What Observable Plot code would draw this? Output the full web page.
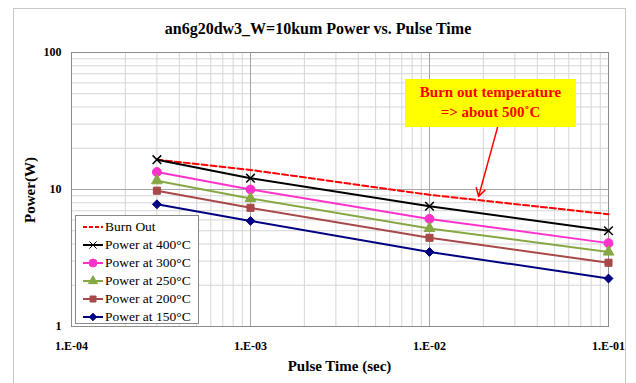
<!DOCTYPE html>
<html>
<head>
<meta charset="utf-8">
<script src="https://cdn.jsdelivr.net/npm/d3@7"></script>
<script src="https://cdn.jsdelivr.net/npm/@observablehq/plot@0.6"></script>
<style>
  body { margin: 0; background: #fff; }
  #wrap { position: relative; width: 636px; height: 383px; overflow: hidden; font-family: "Liberation Serif", "Times New Roman", "DejaVu Serif", serif; }
  #frame { position: absolute; left: 13px; top: 8px; width: 611px; height: 400px; border: 1px solid #c8c8c8; }
  #chart { position: absolute; left: 0; top: 0; }
  #chart svg text { font-family: "Liberation Serif", "Times New Roman", "DejaVu Serif", serif; }
  .title { position: absolute; left: 0; width: 636px; text-align: center; font-weight: bold; font-size: 16px; top: 20px; }
  .xlabel { position: absolute; left: 71px; width: 537px; text-align: center; font-weight: bold; font-size: 15px; top: 358px; }
  .ylabel { position: absolute; left: 30px; top: 190px; font-weight: bold; font-size: 15px; transform: translate(-50%, -50%) rotate(-90deg); white-space: nowrap; }
  #legend { position: absolute; left: 75px; top: 215px; width: 124px; height: 109px; border: 1px solid #888; background: #fff; padding-top: 2px; box-sizing: border-box; }
  .item { height: 18px; display: flex; align-items: center; font-size: 13.5px; white-space: nowrap; }
  .item svg { margin-left: 6px; margin-right: 1px; }
  #note { position: absolute; left: 405px; top: 79px; width: 171px; height: 48px; background: #ffff00; color: #ff0000; font-weight: bold; font-size: 15px; text-align: center; line-height: 20px; padding-top: 3px; box-sizing: border-box; }
</style>
</head>
<body>
<div id="wrap">
  <div id="frame"></div>
  <div id="chart"></div>
  <div class="title">an6g20dw3_W=10kum Power vs. Pulse Time</div>
  <div class="xlabel">Pulse Time (sec)</div>
  <div class="ylabel">Power(W)</div>
  <div id="legend"></div>
  <div id="note">Burn out temperature<br>=&gt; about 500˚C</div>
</div>
<script>
// ---- data ----
const times = [3e-4, 1e-3, 1e-2, 1e-1];
const burnOut = [16.5, 13.9, 9.15, 6.6];
const p400 = [16.5, 12.1, 7.55, 5.0];
const p300 = [13.4, 10.0, 6.1, 4.06];
const p250 = [11.6, 8.6, 5.2, 3.5];
const p200 = [9.8, 7.35, 4.44, 2.92];
const p150 = [7.8, 5.9, 3.5, 2.24];
const seriesNames = ["Burn Out", "Power at 400°C", "Power at 300°C", "Power at 250°C", "Power at 200°C", "Power at 150°C"];
const seriesColors = ["#ff0000", "#000000", "#ff33cc", "#86a844", "#a84848", "#000080"];
const seriesSymbols = [null, "times", "circle", "triangle", "square", "diamond2"];
const xTicks = [1e-4, 1e-3, 1e-2, 1e-1];
const xTickLabels = ["1.E-04", "1.E-03", "1.E-02", "1.E-01"];
const yTicks = [1, 10, 100];
const yTickLabels = ["1", "10", "100"];
// annotation arrow (data coordinates): from box to burn-out line
const arrowFrom = {x: 0.0240, y: 28.4};
const arrowTo = {x: 0.0188, y: 8.9};

// ---- build table ----
const seriesValues = [burnOut, p400, p300, p250, p200, p150];
const rows = [];
seriesValues.forEach((vals, i) => vals.forEach((v, j) => rows.push({series: seriesNames[i], idx: i, t: times[j], p: v})));

// gridline positions
const xMinor = [];
for (let e = -4; e < -1; e++) for (let k = 2; k <= 9; k++) xMinor.push(k * Math.pow(10, e));
const yMinor = [];
for (let e = 0; e < 2; e++) for (let k = 2; k <= 9; k++) yMinor.push(k * Math.pow(10, e));

const serif = "'Liberation Serif', 'Times New Roman', 'DejaVu Serif', serif";
const marks = [
  Plot.ruleX(xMinor, {stroke: "#d6d6d6", strokeWidth: 1}),
  Plot.ruleY(yMinor, {stroke: "#d6d6d6", strokeWidth: 1}),
  Plot.ruleX(xTicks, {stroke: "#a6a6a6", strokeWidth: 1}),
  Plot.ruleY(yTicks, {stroke: "#a6a6a6", strokeWidth: 1}),
  Plot.frame({stroke: "#8c8c8c"}),
];
seriesNames.forEach((name, i) => {
  const d = rows.filter(r => r.idx === i);
  marks.push(Plot.line(d, {x: "t", y: "p", stroke: seriesColors[i], strokeWidth: 2, strokeDasharray: i === 0 ? "6,3" : null}));
});
seriesNames.forEach((name, i) => {
  if (!seriesSymbols[i]) return;
  const d = rows.filter(r => r.idx === i);
  marks.push(Plot.dot(d, {x: "t", y: "p", symbol: () => seriesSymbols[i], fill: seriesColors[i], stroke: seriesColors[i], strokeWidth: seriesSymbols[i] === "times" ? 1.5 : 1, r: seriesSymbols[i] === "circle" ? 4.5 : 4}));
});
marks.push(Plot.arrow([{x1: arrowFrom.x, y1: arrowFrom.y, x2: arrowTo.x, y2: arrowTo.y}], {x1: "x1", y1: "y1", x2: "x2", y2: "y2", stroke: "#ff0000", strokeWidth: 1.5, headLength: 9, bend: 0}));
marks.push(Plot.axisX(xTicks, {tickSize: 0, tickPadding: 15, tickFormat: d => xTickLabels[xTicks.indexOf(d)], fontWeight: "bold", fontSize: 12, fontFamily: serif, label: null}));
marks.push(Plot.axisY(yTicks, {tickSize: 0, tickPadding: 10, tickFormat: d => yTickLabels[yTicks.indexOf(d)], fontWeight: "bold", fontSize: 12, fontFamily: serif, label: null}));

const chart = Plot.plot({
  width: 636,
  height: 383,
  marginLeft: 71,
  marginRight: 28,
  marginTop: 52,
  marginBottom: 57,
  style: {fontFamily: serif, background: "transparent", color: "#000"},
  x: {type: "log", domain: [1e-4, 1e-1]},
  y: {type: "log", domain: [1, 100]},
  marks
});
document.getElementById("chart").appendChild(chart);

// ---- legend ----
const legend = document.getElementById("legend");
seriesNames.forEach((name, i) => {
  const item = document.createElement("div");
  item.className = "item";
  const ns = "http://www.w3.org/2000/svg";
  const svg = document.createElementNS(ns, "svg");
  svg.setAttribute("width", 22); svg.setAttribute("height", 12);
  const ln = document.createElementNS(ns, "line");
  ln.setAttribute("x1", 1); ln.setAttribute("x2", 21); ln.setAttribute("y1", 6); ln.setAttribute("y2", 6);
  ln.setAttribute("stroke", seriesColors[i]); ln.setAttribute("stroke-width", 2);
  if (i === 0) ln.setAttribute("stroke-dasharray", "4,2");
  svg.appendChild(ln);
  if (seriesSymbols[i]) {
    const sym = {times: d3.symbolTimes, circle: d3.symbolCircle, triangle: d3.symbolTriangle, square: d3.symbolSquare, diamond2: d3.symbolDiamond2}[seriesSymbols[i]];
    const p = document.createElementNS(ns, "path");
    p.setAttribute("d", d3.symbol(sym, seriesSymbols[i] === "circle" ? 50 : 36)());
    p.setAttribute("transform", "translate(11,6)");
    p.setAttribute("fill", seriesColors[i]); p.setAttribute("stroke", seriesColors[i]);
    svg.appendChild(p);
  }
  item.appendChild(svg);
  const span = document.createElement("span");
  span.textContent = name;
  item.appendChild(span);
  legend.appendChild(item);
});
</script>
</body>
</html>
